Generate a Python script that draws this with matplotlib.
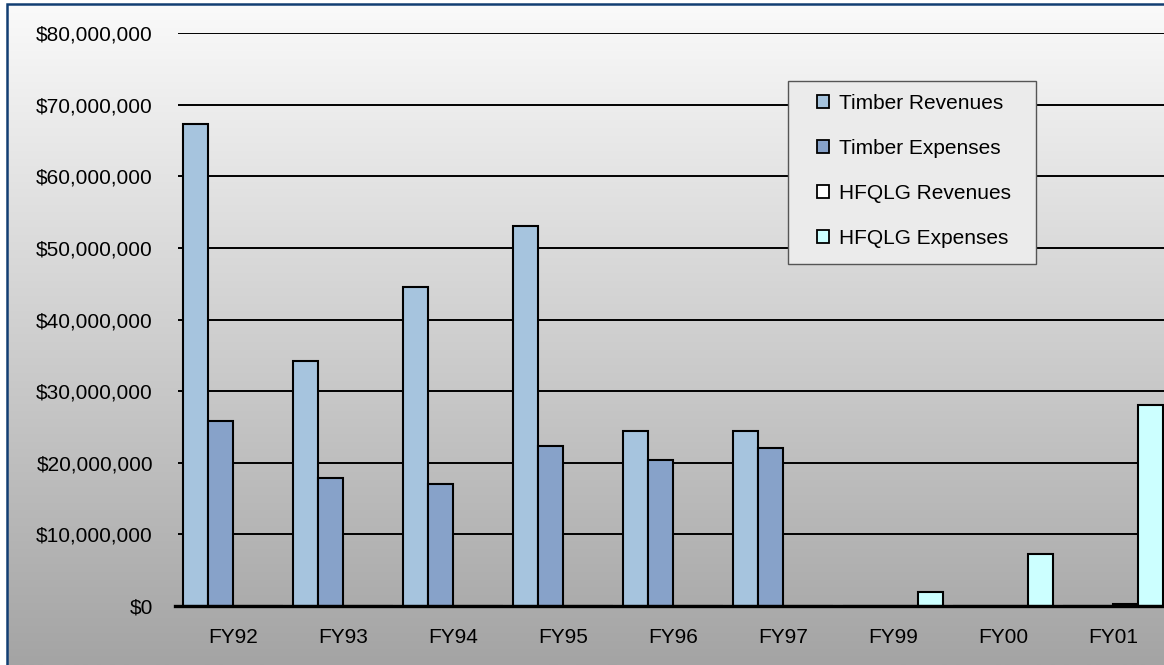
import matplotlib.pyplot as plt
import numpy as np
from matplotlib.patches import Rectangle
from matplotlib.colors import LinearSegmentedColormap
from matplotlib.ticker import FuncFormatter, MultipleLocator

categories = ['FY92', 'FY93', 'FY94', 'FY95', 'FY96', 'FY97', 'FY99', 'FY00', 'FY01']
series_names = ['Timber Revenues', 'Timber Expenses', 'HFQLG Revenues', 'HFQLG Expenses']
# values in millions of dollars
timber_rev = [67.3, 34.2, 44.5, 53.0, 24.4, 24.4, 0, 0, 0]
timber_exp = [25.8, 17.9, 17.1, 22.4, 20.4, 22.1, 0, 0, 0]
hfqlg_rev = [0, 0, 0, 0, 0, 0, 0, 0, 0.3]
hfqlg_exp = [0, 0, 0, 0, 0, 0, 1.9, 7.2, 28.1]

colors = ['#a6c4de', '#87a2c9', '#ffffff', '#ccffff']
font = 'Liberation Sans'

W, H = 1164, 665
fig = plt.figure(figsize=(W / 100, H / 100), dpi=100, facecolor='white')

# gradient background inside the chart border
bg = fig.add_axes([7 / W, 0, 1 - 7 / W, 1 - 4 / H], zorder=0)
grad = np.linspace(0, 1, 256).reshape(-1, 1)
bg.imshow(grad, aspect='auto', cmap=LinearSegmentedColormap.from_list('g', ['#fafafa', '#a4a4a4']),
          extent=[0, 1, 0, 1], origin='upper')
bg.axis('off')
fig.patches.append(Rectangle((6.5 / W, -0.1), 1.2, 1.1 - 3.5 / H, transform=fig.transFigure,
                             fill=False, edgecolor='#123e73', linewidth=1.8, zorder=1))

ax = fig.add_axes([178 / W, (H - 606) / H, 990 / W, 573 / H], zorder=2)
ax.patch.set_alpha(0)

x = np.arange(len(categories))
w = 25 / 110
all_series = [timber_rev, timber_exp, hfqlg_rev, hfqlg_exp]
for i, (vals, c, name) in enumerate(zip(all_series, colors, series_names)):
    ax.bar(x + (i - 1.5) * w, np.array(vals) * 1e6, width=w, color=c,
           edgecolor='black', linewidth=1.5, label=name, zorder=3)

ax.set_xlim(-0.5, len(categories) - 0.5)
ax.set_ylim(0, 80e6)
ax.yaxis.set_major_locator(MultipleLocator(10e6))
ax.yaxis.set_major_formatter(FuncFormatter(lambda v, p: '${:,.0f}'.format(v)))
ax.grid(axis='y', color='black', linewidth=1.4, zorder=1)
ax.set_axisbelow(True)
for s in ['top', 'right', 'left']:
    ax.spines[s].set_visible(False)
ax.spines['bottom'].set_linewidth(2.4)
ax.spines['bottom'].set_zorder(4)
ax.spines['bottom'].set_bounds(-0.53, len(categories) - 0.5)
ax.spines['bottom'].set_clip_on(False)

ax.set_xticks(x)
ax.set_xticklabels(categories)
ax.tick_params(axis='x', length=0, pad=16, labelsize=15)
ax.tick_params(axis='y', length=0, pad=18, labelsize=15)
for lab in ax.get_xticklabels() + ax.get_yticklabels():
    lab.set_fontfamily(font)

# legend frame drawn separately so its padding can match the original box
frame = Rectangle((788 / W, 1 - 264 / H), 248 / W, 183 / H, transform=fig.transFigure,
                  facecolor='#ebebeb', edgecolor='#555555', linewidth=1.0, zorder=5, clip_on=False)
ax.add_patch(frame)
leg = ax.legend(loc='upper left', bbox_to_anchor=(817 / W, 1 - 94 / H), bbox_transform=fig.transFigure,
                frameon=False, prop={'family': font, 'size': 15},
                handlelength=0.6, handleheight=0.6, handletextpad=0.45,
                labelspacing=1.25, borderpad=0, borderaxespad=0)
leg.set_zorder(6)
for h in leg.legend_handles:
    h.set_linewidth(1.3)

fig.savefig('out.png', dpi=100)
